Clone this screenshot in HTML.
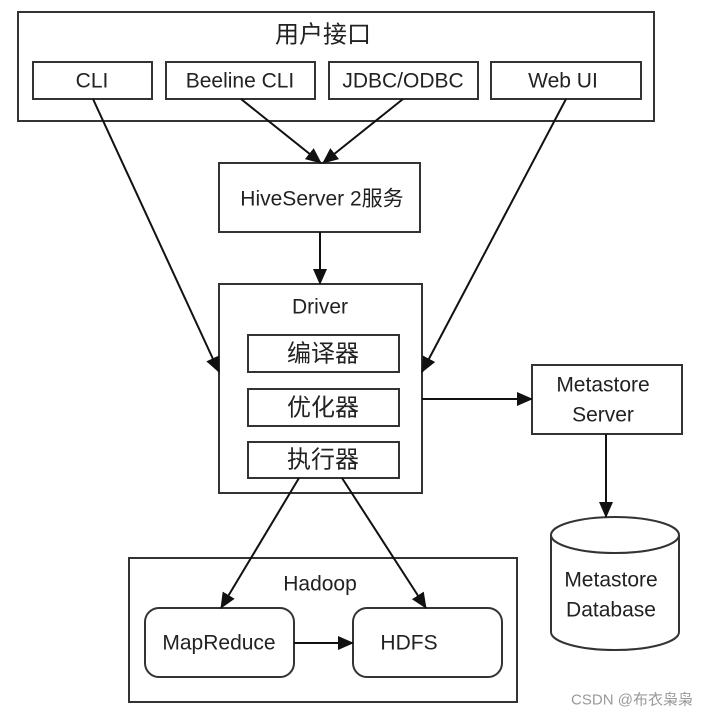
<!DOCTYPE html>
<html><head><meta charset="utf-8"><style>
body{margin:0;background:#fff;}
svg text{font-family:"Liberation Sans","Noto Sans CJK SC",sans-serif;fill:#222;text-anchor:middle;dominant-baseline:central;}
.c{font-size:24px;}
</style></head><body>
<svg width="710" height="719" viewBox="0 0 710 719" xmlns="http://www.w3.org/2000/svg">
<defs>
<marker id="b" markerWidth="16" markerHeight="14" refX="15" refY="7" orient="auto" markerUnits="userSpaceOnUse" viewBox="0 0 16 14"><path d="M0,0 L16,7 L0,14 z" fill="#111"/></marker></defs>
<g fill="none" stroke="#333" stroke-width="2">
<rect x="18" y="12" width="636" height="109"/>
<rect x="33" y="62" width="119" height="37"/>
<rect x="166" y="62" width="149" height="37"/>
<rect x="329" y="62" width="149" height="37"/>
<rect x="491" y="62" width="150" height="37"/>
<rect x="219" y="163" width="201" height="69"/>
<rect x="219" y="284" width="203" height="209"/>
<rect x="248" y="335" width="151" height="37"/>
<rect x="248" y="389" width="151" height="37"/>
<rect x="248" y="442" width="151" height="36"/>
<rect x="532" y="365" width="150" height="69"/>
<rect x="129" y="558" width="388" height="144"/>
<rect x="145" y="608" width="149" height="69" rx="14"/>
<rect x="353" y="608" width="149" height="69" rx="14"/>
<path d="M551,535 L551,632 A64,18 0 0 0 679,632 L679,535"/>
<ellipse cx="615" cy="535" rx="64" ry="18"/>
</g>
<g stroke="#111" stroke-width="2" fill="none" marker-end="url(#b)">
<line x1="241" y1="99" x2="321" y2="163"/>
<line x1="403" y1="99" x2="323" y2="163"/>
<line x1="320" y1="232" x2="320" y2="284"/>
<line x1="93" y1="99" x2="219" y2="372"/>
<line x1="566" y1="99" x2="422" y2="372"/>
<line x1="422" y1="399" x2="532" y2="399"/>
<line x1="606" y1="434" x2="606" y2="517"/>
<line x1="299" y1="478" x2="221" y2="608"/>
<line x1="342" y1="478" x2="426" y2="608"/>
<line x1="294" y1="643" x2="353" y2="643"/>
</g>
<g font-size="21">
<text x="323" y="35" class="c">用户接口</text>
<text x="92" y="81">CLI</text>
<text x="240" y="81">Beeline CLI</text>
<text x="403" y="81">JDBC/ODBC</text>
<text x="563" y="81">Web UI</text>
<text x="322" y="199">HiveServer 2服务</text>
<text x="320" y="307">Driver</text>
<text x="323" y="354" class="c">编译器</text>
<text x="323" y="408" class="c">优化器</text>
<text x="323" y="460" class="c">执行器</text>
<text x="603" y="385">Metastore</text>
<text x="603" y="415">Server</text>
<text x="611" y="580">Metastore</text>
<text x="611" y="610">Database</text>
<text x="320" y="584">Hadoop</text>
<text x="219" y="643">MapReduce</text>
<text x="409" y="643">HDFS</text>
</g>
<text x="632" y="700" font-size="15" style="fill:#999">CSDN @布衣枭枭</text>
</svg>
</body></html>
